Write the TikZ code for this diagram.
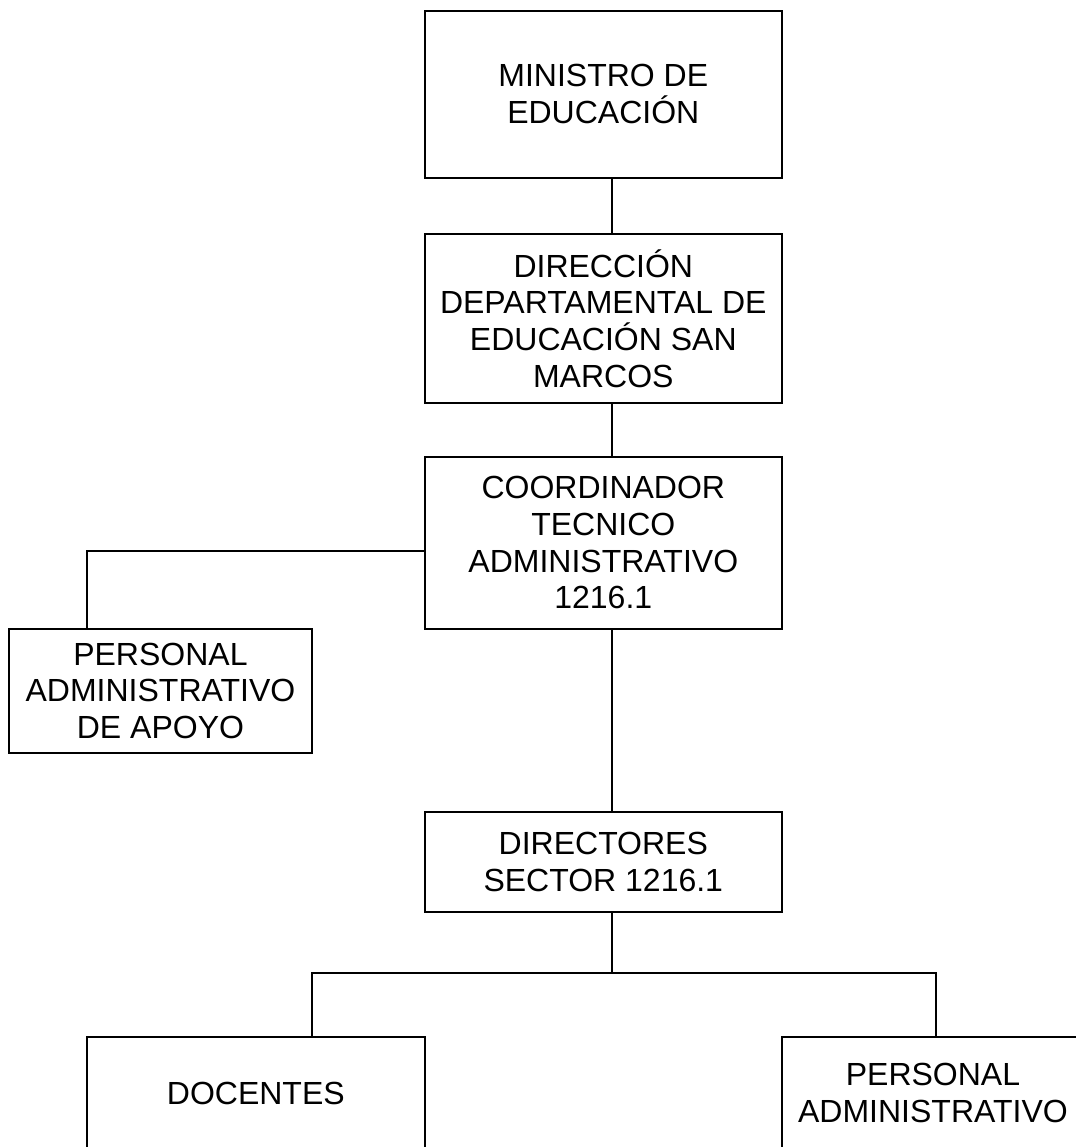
\documentclass[tikz,border=0pt]{standalone}
\usepackage{fontspec}
\setmainfont{Liberation Sans}
\usetikzlibrary{positioning}
\tikzset{
  node distance=0mm,
  every node/.style={outer sep=0mm,inner sep=0mm}
}
\tikzset{unit/.style={
    draw,
    minimum width=#1,
    align=center,
    font=\fontsize{32pt}{36.7pt}\selectfont
  },
  unit/.default=357.3pt}

\begin{document}
\begin{tikzpicture}
  [line width=1.9pt
  ]
  \useasboundingbox (0,0) rectangle (1075pt,-1147pt);

  \node (Ministro) [unit,minimum height=167pt,anchor=north] at (603.3pt,-10.7pt)
  {MINISTRO DE\\EDUCACIÓN};
  \node (Direccion) [unit,minimum height=168.7pt,below=56.3pt of Ministro.south]
  {DIRECCIÓN\\DEPARTAMENTAL DE\\EDUCACIÓN SAN\\MARCOS};
  \node (Coordinador) [unit,minimum height=172pt,below=54pt of Direccion.south]
  {COORDINADOR\\TECNICO\\ADMINISTRATIVO\\1216.1};
  \node (Apoyo) [unit=303pt,minimum height=124.5pt,left=112.7pt of Coordinador.south west,anchor=north east]
  {PERSONAL\\ADMINISTRATIVO\\DE APOYO};

  \node (Directores) [unit,minimum height=100pt,below=183.3pt of Coordinador.south]
  {DIRECTORES\\SECTOR 1216.1};
  \node (Docentes) [unit=337.7pt,minimum height=113pt,below=124.7pt of Directores.south west,anchor=north east]
  {DOCENTES};
  \node (Personal_adm) [unit=302pt,minimum height=113pt,below=124.7pt of Directores.south east,anchor=north west]
  {PERSONAL\\ADMINISTRATIVO};

  \draw ([xshift=8.4pt] Ministro.south) -- ([xshift=8.4pt] Direccion.north);
  \draw ([xshift=8.4pt] Direccion.south) -- ([xshift=8.4pt] Coordinador.north);
  \draw ([xshift=8.4pt] Coordinador.south) -- ([xshift=8.4pt] Directores.north);
  \draw ([yshift=-8.3pt] Coordinador.west) -| ([xshift=-73.5pt] Apoyo.north);

  \coordinate (Fork) at ([xshift=8.4pt,yshift=-60.7pt] Directores.south);
  \draw ([xshift=8.4pt] Directores.south) -- (Fork);
  \draw ([xshift=55.8pt] Docentes.north) |- (Fork) -| ([xshift=3pt] Personal_adm.north);
\end{tikzpicture}
\end{document}
